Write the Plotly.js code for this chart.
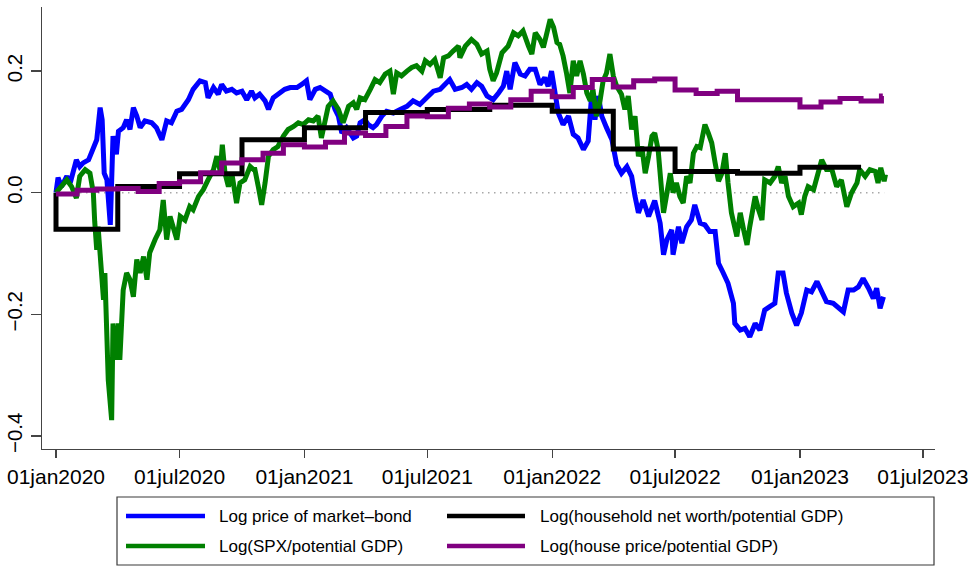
<!DOCTYPE html>
<html>
<head>
<meta charset="utf-8">
<script src="https://cdn.plot.ly/plotly-3.0.1.min.js"></script>
<style>
  html, body { margin: 0; padding: 0; background: #ffffff; }
  #chart { width: 973px; height: 568px; }
</style>
</head>
<body>
<div id="chart"></div>
<script>
// ---- Series names ----
const seriesNames = [
  'Log price of market\u2013bond',
  'Log(SPX/potential GDP)',
  'Log(household net worth/potential GDP)',
  'Log(house price/potential GDP)'
];

// ---- Log price of market-bond (daily closes, sampled) ----
const bondDates = [
  '2020-01-01','2020-01-04','2020-01-09','2020-01-17','2020-01-22','2020-01-31','2020-02-05','2020-02-10',
  '2020-02-18','2020-02-25','2020-03-01','2020-03-06','2020-03-09','2020-03-12','2020-03-16','2020-03-21',
  '2020-03-23','2020-03-25','2020-03-30','2020-04-02','2020-04-09','2020-04-14','2020-04-19','2020-04-24',
  '2020-04-29','2020-05-04','2020-05-11','2020-05-21','2020-05-28','2020-06-05','2020-06-12','2020-06-19',
  '2020-06-27','2020-07-04','2020-07-14','2020-07-21','2020-07-31','2020-08-08','2020-08-12','2020-08-20',
  '2020-08-27','2020-09-01','2020-09-08','2020-09-16','2020-09-23','2020-10-01','2020-10-08','2020-10-15',
  '2020-10-20','2020-10-27','2020-11-04','2020-11-09','2020-11-16','2020-11-26','2020-12-03','2020-12-11',
  '2020-12-21','2020-12-28','2021-01-04','2021-01-09','2021-01-17','2021-01-24','2021-01-31','2021-02-08',
  '2021-02-15','2021-02-20','2021-02-25','2021-03-04','2021-03-14','2021-03-19','2021-03-24','2021-03-31',
  '2021-04-05','2021-04-12','2021-04-17','2021-04-25','2021-05-02','2021-05-12','2021-05-22','2021-06-01',
  '2021-06-10','2021-06-20','2021-06-30','2021-07-10','2021-07-20','2021-07-27','2021-08-03','2021-08-11',
  '2021-08-21','2021-08-28','2021-09-04','2021-09-12','2021-09-19','2021-09-27','2021-10-06','2021-10-14',
  '2021-10-21','2021-10-26','2021-10-31','2021-11-07','2021-11-15','2021-11-22','2021-11-29','2021-12-07',
  '2021-12-14','2021-12-21','2021-12-26','2021-12-31','2022-01-05','2022-01-10','2022-01-17','2022-01-25',
  '2022-02-01','2022-02-08','2022-02-16','2022-02-23','2022-02-28','2022-03-05','2022-03-10','2022-03-15',
  '2022-03-22','2022-03-30','2022-04-06','2022-04-13','2022-04-21','2022-04-28','2022-05-03','2022-05-08',
  '2022-05-15','2022-05-23','2022-06-01','2022-06-09','2022-06-14','2022-06-19','2022-06-26','2022-06-28',
  '2022-07-06','2022-07-11','2022-07-18','2022-07-25','2022-07-30','2022-08-07','2022-08-14','2022-08-21',
  '2022-08-29','2022-09-03','2022-09-10','2022-09-17','2022-09-25','2022-09-27','2022-10-05','2022-10-12',
  '2022-10-19','2022-10-27','2022-11-03','2022-11-10','2022-11-18','2022-11-25','2022-11-30','2022-12-07',
  '2022-12-12','2022-12-20','2022-12-27','2023-01-03','2023-01-11','2023-01-18','2023-01-26','2023-02-02',
  '2023-02-09','2023-02-19','2023-03-01','2023-03-06','2023-03-13','2023-03-21','2023-03-28','2023-04-04',
  '2023-04-12','2023-04-19','2023-04-24','2023-04-29','2023-05-04'
];
const bondValues = [
  0.000, 0.025, 0.010, 0.027, 0.016, 0.054, 0.043, 0.049,
  0.054, 0.076, 0.087, 0.140, 0.120, 0.032, 0.021, -0.053,
  0.043, 0.093, 0.063, 0.101, 0.107, 0.120, 0.104, 0.140,
  0.126, 0.107, 0.118, 0.115, 0.107, 0.087, 0.118, 0.115,
  0.134, 0.137, 0.153, 0.170, 0.184, 0.181, 0.156, 0.173,
  0.162, 0.178, 0.167, 0.170, 0.164, 0.167, 0.153, 0.167,
  0.156, 0.162, 0.151, 0.137, 0.156, 0.164, 0.170, 0.173,
  0.173, 0.178, 0.184, 0.153, 0.170, 0.173, 0.167, 0.162,
  0.137, 0.126, 0.098, 0.107, 0.090, 0.093, 0.115, 0.120,
  0.112, 0.107, 0.112, 0.126, 0.134, 0.131, 0.137, 0.142,
  0.151, 0.145, 0.156, 0.167, 0.170, 0.178, 0.186, 0.170,
  0.173, 0.178, 0.170, 0.181, 0.175, 0.159, 0.153, 0.164,
  0.175, 0.200, 0.170, 0.214, 0.195, 0.192, 0.203, 0.203,
  0.178, 0.189, 0.175, 0.200, 0.159, 0.131, 0.112, 0.126,
  0.096, 0.090, 0.071, 0.085, 0.159, 0.120, 0.159, 0.126,
  0.107, 0.087, 0.046, 0.032, 0.043, 0.027, -0.006, -0.033,
  -0.012, -0.039, -0.013, -0.050, -0.102, -0.077, -0.061, -0.102,
  -0.056, -0.083, -0.056, -0.045, -0.020, -0.050, -0.053, -0.064,
  -0.064, -0.116, -0.132, -0.149, -0.182, -0.215, -0.226, -0.223,
  -0.237, -0.215, -0.226, -0.193, -0.187, -0.182, -0.132, -0.132,
  -0.165, -0.198, -0.218, -0.198, -0.160, -0.163, -0.146, -0.165,
  -0.179, -0.182, -0.190, -0.196, -0.160, -0.160, -0.155, -0.141,
  -0.157, -0.174, -0.157, -0.190, -0.171
];

// ---- Log(SPX / potential GDP) ----
const spxDates = [
  '2020-01-01','2020-01-07','2020-01-17','2020-01-24','2020-01-31','2020-02-05','2020-02-13','2020-02-20',
  '2020-02-25','2020-02-27','2020-03-01','2020-03-03','2020-03-08','2020-03-11','2020-03-13','2020-03-16',
  '2020-03-18','2020-03-23','2020-03-25','2020-03-29','2020-04-02','2020-04-04','2020-04-09','2020-04-14',
  '2020-04-19','2020-04-24','2020-04-29','2020-05-04','2020-05-09','2020-05-14','2020-05-18','2020-05-26',
  '2020-06-02','2020-06-07','2020-06-12','2020-06-17','2020-06-22','2020-06-27','2020-07-02','2020-07-09',
  '2020-07-16','2020-07-21','2020-07-29','2020-08-05','2020-08-12','2020-08-20','2020-08-25','2020-08-30',
  '2020-09-02','2020-09-06','2020-09-11','2020-09-16','2020-09-23','2020-09-28','2020-10-05','2020-10-13',
  '2020-10-18','2020-10-20','2020-10-25','2020-10-30','2020-11-04','2020-11-09','2020-11-16','2020-11-23',
  '2020-12-01','2020-12-08','2020-12-16','2020-12-23','2020-12-30','2021-01-07','2021-01-14','2021-01-21',
  '2021-01-26','2021-01-31','2021-02-05','2021-02-12','2021-02-20','2021-02-27','2021-03-07','2021-03-14',
  '2021-03-19','2021-03-24','2021-03-31','2021-04-08','2021-04-15','2021-04-22','2021-04-30','2021-05-07',
  '2021-05-12','2021-05-17','2021-05-24','2021-06-01','2021-06-08','2021-06-15','2021-06-23','2021-06-28',
  '2021-07-05','2021-07-12','2021-07-20','2021-07-25','2021-08-01','2021-08-08','2021-08-16','2021-08-18',
  '2021-08-26','2021-09-04','2021-09-12','2021-09-19','2021-09-27','2021-10-01','2021-10-06','2021-10-11',
  '2021-10-19','2021-10-28','2021-11-05','2021-11-12','2021-11-19','2021-11-27','2021-12-02','2021-12-07',
  '2021-12-14','2021-12-19','2021-12-24','2021-12-29','2022-01-03','2022-01-08','2022-01-12','2022-01-17',
  '2022-01-22','2022-01-27','2022-02-01','2022-02-06','2022-02-11','2022-02-16','2022-02-21','2022-02-26',
  '2022-03-02','2022-03-07','2022-03-12','2022-03-17','2022-03-22','2022-03-27','2022-04-01','2022-04-06',
  '2022-04-13','2022-04-18','2022-04-23','2022-04-28','2022-05-03','2022-05-08','2022-05-13','2022-05-18',
  '2022-05-23','2022-05-28','2022-06-01','2022-06-06','2022-06-14','2022-06-19','2022-06-24','2022-06-28',
  '2022-07-03','2022-07-08','2022-07-13','2022-07-18','2022-07-23','2022-07-28','2022-08-02','2022-08-07',
  '2022-08-14','2022-08-19','2022-08-24','2022-08-29','2022-09-03','2022-09-08','2022-09-13','2022-09-17',
  '2022-09-22','2022-09-30','2022-10-05','2022-10-10','2022-10-15','2022-10-19','2022-10-27','2022-11-01',
  '2022-11-06','2022-11-10','2022-11-18','2022-11-25','2022-11-30','2022-12-05','2022-12-10','2022-12-15',
  '2022-12-22','2022-12-30','2023-01-03','2023-01-08','2023-01-13','2023-01-21','2023-01-28','2023-02-02',
  '2023-02-09','2023-02-17','2023-02-24','2023-03-03','2023-03-11','2023-03-18','2023-03-26','2023-03-30',
  '2023-04-07','2023-04-14','2023-04-22','2023-04-26','2023-04-30','2023-05-05','2023-05-07'
];
const spxValues = [
  0.000, 0.008, 0.021, 0.010, -0.009, 0.027, 0.038, 0.032,
  0.000, -0.047, -0.094, -0.056, -0.122, -0.176, -0.132, -0.270,
  -0.308, -0.374, -0.215, -0.275, -0.215, -0.275, -0.160, -0.132,
  -0.143, -0.171, -0.110, -0.132, -0.105, -0.143, -0.099, -0.077,
  -0.061, -0.012, -0.077, -0.039, -0.056, -0.077, -0.039, -0.045,
  -0.023, -0.028, -0.006, 0.005, 0.021, 0.038, 0.060, 0.035,
  0.079, 0.032, 0.010, 0.032, -0.017, 0.016, 0.021, 0.043,
  0.038, 0.038, 0.010, -0.020, 0.016, 0.060, 0.071, 0.076,
  0.093, 0.104, 0.109, 0.115, 0.112, 0.120, 0.118, 0.126,
  0.090, 0.120, 0.142, 0.151, 0.137, 0.115, 0.142, 0.148,
  0.137, 0.156, 0.153, 0.170, 0.186, 0.181, 0.195, 0.200,
  0.162, 0.197, 0.192, 0.200, 0.206, 0.209, 0.200, 0.217,
  0.211, 0.219, 0.189, 0.222, 0.225, 0.233, 0.241, 0.222,
  0.241, 0.252, 0.244, 0.228, 0.233, 0.203, 0.184, 0.197,
  0.230, 0.241, 0.263, 0.258, 0.266, 0.241, 0.228, 0.263,
  0.252, 0.239, 0.263, 0.285, 0.272, 0.247, 0.244, 0.225,
  0.197, 0.164, 0.217, 0.192, 0.217, 0.195, 0.164, 0.151,
  0.170, 0.126, 0.148, 0.184, 0.197, 0.228, 0.192, 0.175,
  0.162, 0.137, 0.159, 0.104, 0.126, 0.060, 0.076, 0.032,
  0.060, 0.093, 0.098, 0.071, -0.033, 0.000, 0.032, 0.000,
  0.016, -0.006, -0.017, 0.027, 0.016, 0.065, 0.076, 0.074,
  0.112, 0.098, 0.082, 0.049, 0.019, 0.032, 0.065, 0.016,
  -0.033, -0.072, -0.033, -0.061, -0.086, -0.056, -0.006, -0.028,
  -0.045, 0.021, 0.016, 0.027, 0.043, 0.016, 0.027, -0.006,
  -0.023, -0.017, -0.036, -0.006, 0.010, 0.005, 0.038, 0.054,
  0.038, 0.038, 0.010, 0.021, -0.023, 0.000, 0.016, 0.038,
  0.027, 0.038, 0.035, 0.016, 0.041, 0.019, 0.030
];

// ---- Log(household net worth / potential GDP), quarterly, held between releases ----
const netWorthDates = [
  '2020-01-01','2020-01-01','2020-04-01','2020-07-01','2020-10-01','2021-01-01','2021-04-01','2021-07-01',
  '2021-10-01','2022-01-01','2022-04-01','2022-07-01','2022-10-01','2023-01-01','2023-04-01'
];
const netWorthValues = [
  0.000, -0.060, 0.010, 0.031, 0.087, 0.107, 0.132, 0.137,
  0.144, 0.134, 0.072, 0.035, 0.032, 0.042, 0.042
];

// ---- Log(house price / potential GDP), monthly, held within each month ----
const housePriceDates = [
  '2020-01-01','2020-02-01','2020-03-01','2020-04-01','2020-05-01','2020-06-01','2020-07-01','2020-08-01',
  '2020-09-01','2020-10-01','2020-11-01','2020-12-01','2021-01-01','2021-02-01','2021-03-01','2021-04-01',
  '2021-05-01','2021-06-01','2021-07-01','2021-08-01','2021-09-01','2021-10-01','2021-11-01','2021-12-01',
  '2022-01-01','2022-02-01','2022-03-01','2022-04-01','2022-05-01','2022-06-01','2022-07-01','2022-08-01',
  '2022-09-01','2022-10-01','2022-11-01','2022-12-01','2023-01-01','2023-02-01','2023-03-01','2023-04-01',
  '2023-05-01','2023-05-03'
];
const housePriceValues = [
  -0.002, 0.004, 0.006, 0.007, 0.002, 0.015, 0.018, 0.033,
  0.049, 0.054, 0.065, 0.079, 0.075, 0.083, 0.098, 0.094,
  0.109, 0.126, 0.125, 0.139, 0.146, 0.141, 0.153, 0.167,
  0.158, 0.173, 0.186, 0.174, 0.184, 0.187, 0.169, 0.163,
  0.167, 0.153, 0.153, 0.153, 0.141, 0.149, 0.155, 0.151,
  0.159, 0.159
];

// ---- Reference zero line over the sample period ----
const zeroDates = ['2020-01-01', '2023-05-05'];
const zeroValues = [0, 0];

// ---- Axis ticks ----
const xTickDates = ['2020-01-01','2020-07-01','2021-01-01','2021-07-01','2022-01-01','2022-07-01','2023-01-01','2023-07-01'];
const xTickLabels = ['01jan2020','01jul2020','01jan2021','01jul2021','01jan2022','01jul2022','01jan2023','01jul2023'];
const yTickValues = [-0.4, -0.2, 0.0, 0.2];

const seriesColors = ['#0000ff', '#008000', '#000000', '#800080'];

// ---- Page geometry ----
const W = 973, H = 568;
const M = { l: 42, r: 38, t: 7, b: 119 };
const plotW = W - M.l - M.r, plotH = H - M.t - M.b;
const px = v => (v - M.l) / plotW;          // page pixel x -> paper x
const py = v => (H - M.b - v) / plotH;      // page pixel y -> paper y

const FONT = 'Liberation Sans, Arial, Helvetica, sans-serif';
const LW = 5;

const traces = [
  { x: zeroDates, y: zeroValues, mode: 'lines', hoverinfo: 'skip', showlegend: false,
    line: { color: '#a8a8a8', width: 1.4, dash: '1.5px,4.5px' } },
  { x: bondDates, y: bondValues, name: seriesNames[0], mode: 'lines', showlegend: false,
    line: { color: seriesColors[0], width: LW } },
  { x: spxDates, y: spxValues, name: seriesNames[1], mode: 'lines', showlegend: false,
    line: { color: seriesColors[1], width: LW } },
  { x: netWorthDates, y: netWorthValues, name: seriesNames[2], mode: 'lines', showlegend: false,
    line: { color: seriesColors[2], width: LW, shape: 'hv' } },
  { x: housePriceDates, y: housePriceValues, name: seriesNames[3], mode: 'lines', showlegend: false,
    line: { color: seriesColors[3], width: LW, shape: 'hv' } }
];

// ---- Legend: two columns, drawn below the plot in a framed box ----
const legendRows = [516, 546];
const legendCols = [{ x0: 126, x1: 205, tx: 217 }, { x0: 447, x1: 525, tx: 538 }];
// order: row 1 = bond, net worth; row 2 = SPX, house price
const legendOrder = [[0, 2], [1, 3]];

const shapes = [
  { type: 'rect', xref: 'paper', yref: 'paper',
    x0: px(117), x1: px(934), y0: py(497), y1: py(565),
    line: { color: '#3a3a3a', width: 1.2 }, fillcolor: 'rgba(0,0,0,0)' }
];
const annotations = [];
legendOrder.forEach((row, r) => {
  row.forEach((si, c) => {
    const col = legendCols[c];
    shapes.push({ type: 'line', xref: 'paper', yref: 'paper',
      x0: px(col.x0), x1: px(col.x1), y0: py(legendRows[r]), y1: py(legendRows[r]),
      line: { color: seriesColors[si], width: 4.6 } });
    annotations.push({ xref: 'paper', yref: 'paper', x: px(col.tx), y: py(legendRows[r]),
      xanchor: 'left', yanchor: 'middle', showarrow: false, text: seriesNames[si],
      font: { family: FONT, size: 17, color: '#000000' } });
  });
});

const axisCommon = {
  showgrid: false, zeroline: false, showline: true,
  linecolor: '#444444', linewidth: 1.4,
  ticks: 'outside', tickcolor: '#444444', tickwidth: 1.4,
  tickfont: { family: FONT, size: 20.5, color: '#000000' }
};

const layout = {
  width: W, height: H,
  margin: M,
  paper_bgcolor: '#ffffff', plot_bgcolor: '#ffffff',
  showlegend: false,
  xaxis: Object.assign({}, axisCommon, {
    type: 'date',
    range: ['2019-12-11 09:00', '2023-07-18 22:00'],
    tickmode: 'array', tickvals: xTickDates, ticktext: xTickLabels,
    ticklen: 8, tickangle: 0,
    tickfont: { family: FONT, size: 21, color: '#000000' }
  }),
  yaxis: Object.assign({}, axisCommon, {
    range: [-0.4215, 0.3054],
    tickmode: 'array', tickvals: yTickValues, tickformat: '.1f',
    ticklen: 10, tickangle: -90
  }),
  shapes: shapes,
  annotations: annotations
};

Plotly.newPlot('chart', traces, layout, { displayModeBar: false, staticPlot: true });
</script>
</body>
</html>
